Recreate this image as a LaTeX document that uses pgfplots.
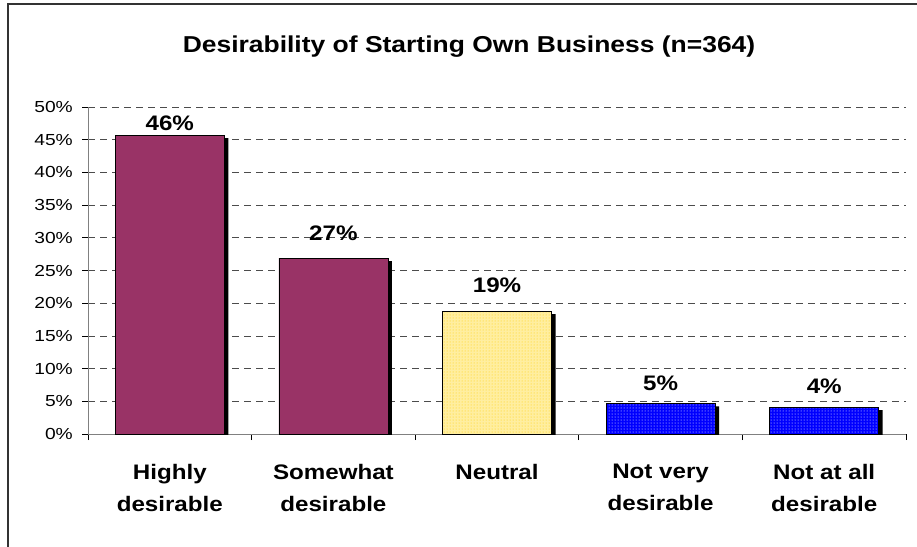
\documentclass[border=0pt]{standalone}
\usepackage{pgfplots}
\pgfplotsset{compat=1.18}
\usepackage{fontspec}
\setmainfont{Liberation Sans}[FakeStretch=1.15]
\newfontfamily\tickfont{Liberation Sans}[FakeStretch=1.2]
\usetikzlibrary{patterns}
\definecolor{maroon}{RGB}{153,51,102}
\definecolor{paleyel}{RGB}{255,238,160}
\definecolor{goldd}{RGB}{255,204,0}
\definecolor{blu}{RGB}{0,0,255}
\begin{document}
\begin{tikzpicture}[x=1pt,y=1pt]
\useasboundingbox (0,0) rectangle (917,546);
\draw[line width=1.2pt, black!80] (8,-5) -- (8,542) -- (925,542);
\node[anchor=base, font=\bfseries\fontsize{23}{27}\selectfont, inner sep=0pt] at (469,493) {Desirability of Starting Own Business (n=364)};
\begin{axis}[
  at={(88pt,112pt)}, anchor=south west,
  scale only axis, width=818pt, height=327pt,
  xmin=-0.5, xmax=4.5, ymin=0, ymax=50,
  ybar, bar shift=0pt, bar width=109pt,
  axis x line*=bottom, axis y line*=left,
  axis line style={black!50, line width=0.8pt},
  ytick={0,5,...,50},
  yticklabel={\pgfmathprintnumber{\tick}\%},
  /pgf/number format/assume math mode=true,
  yticklabel style={font=\tickfont\fontsize{16}{18}\selectfont, inner sep=0pt, xshift=-9pt},
  tick align=outside,
  major tick length=6pt,
  tick style={black, line width=0.8pt},
  ymajorgrids,
  grid style={black!70, line width=0.8pt, dash pattern=on 7pt off 5pt},
  xtick={-0.5,0.5,...,4.5},
  xticklabels={},
  extra x ticks={0,1,2,3,4},
  extra x tick labels={Highly\\desirable, Somewhat\\desirable, Neutral, Not very\\desirable, Not at all\\desirable},
  extra x tick style={major tick length=0pt, grid=none,
    xticklabel style={align=center, anchor=north, inner sep=0pt, yshift=-30pt,
      font=\bfseries\fontsize{21}{32}\selectfont}},
]
% shadows
\addplot[fill=black, draw=none, xshift=4pt, yshift=-3pt] coordinates {(0,45.7) (1,26.9) (2,18.8) (3,4.7) (4,4.1)};
% bars
\addplot[fill=maroon, draw=black, line width=0.8pt] coordinates {(0,45.7) (1,26.9)};
\addplot[fill=paleyel, draw=black, line width=0.8pt, postaction={pattern=dots, pattern color=goldd}] coordinates {(2,18.8)};
\addplot[fill=blu, draw=black, line width=0.8pt, postaction={pattern=dots, pattern color=white}] coordinates {(3,4.7) (4,4.1)};
% value labels
\addplot[draw=none, mark=none, nodes near coords, point meta=explicit symbolic,
  nodes near coords align=center,
  every node near coord/.append style={font=\bfseries\fontsize{21}{24}\selectfont, inner sep=0pt, anchor=center}]
  coordinates {(0,47.5)[46\%] (1,30.7)[27\%] (2,22.7)[19\%] (3,7.7)[5\%] (4,7.3)[4\%]};
\end{axis}
\end{tikzpicture}
\end{document}
